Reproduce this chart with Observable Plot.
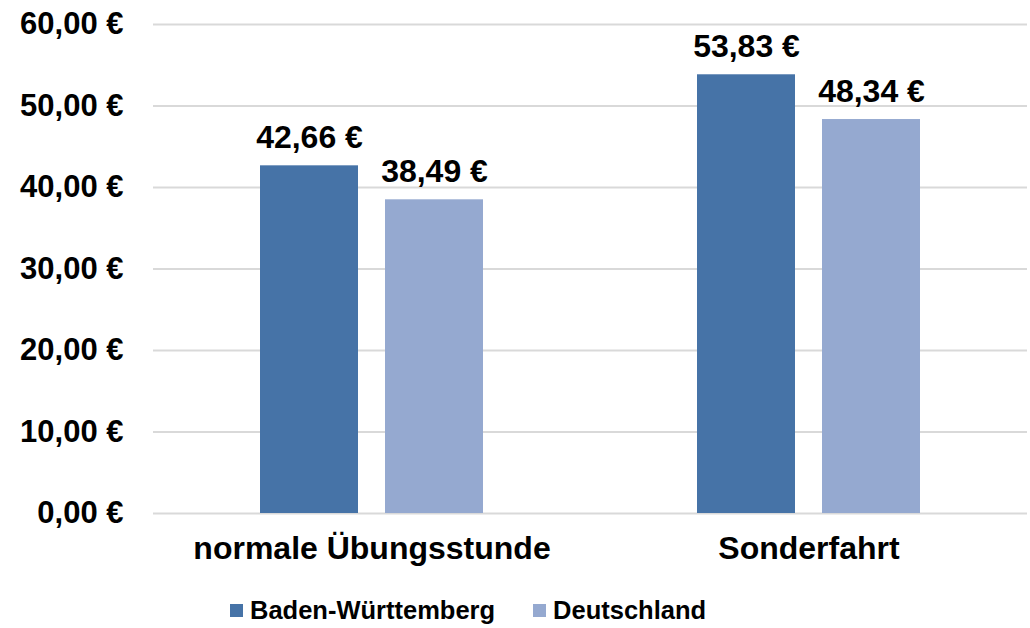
<!DOCTYPE html>
<html>
<head>
<meta charset="utf-8">
<script src="https://cdn.jsdelivr.net/npm/d3@7"></script>
<script src="https://cdn.jsdelivr.net/npm/@observablehq/plot@0.6"></script>
<style>
  body { margin: 0; background: #fff; font-family: "Liberation Sans", Arial, sans-serif; }
  #wrap { position: relative; width: 1030px; height: 628px; }
  #legend { position: absolute; top: 596px; left: 230px; display: flex; align-items: center; font-weight: bold; font-size: 25.5px; color: #000; }
  .item { display: flex; align-items: center; margin-right: 38px; }
  .sw { width: 13px; height: 13px; margin-right: 7px; }
</style>
</head>
<body>
<div id="wrap"><div id="chart"></div><div id="legend"></div></div>
<script>
const categories = ["normale Übungsstunde", "Sonderfahrt"];
const seriesNames = ["Baden-Württemberg", "Deutschland"];
const bwValues = [42.66, 53.83];
const deValues = [38.49, 48.34];
const yTicks = [0, 10, 20, 30, 40, 50, 60];
const colors = ["#4673A7", "#95A9D0"];

const data = [];
categories.forEach((c, i) => {
  data.push({cat: c, series: seriesNames[0], value: bwValues[i]});
  data.push({cat: c, series: seriesNames[1], value: deValues[i]});
});
const fmt = v => v.toFixed(2).replace(".", ",") + " €";

const chart = Plot.plot({
  width: 1030,
  height: 585,
  marginLeft: 152,
  marginRight: 3,
  marginTop: 24,
  marginBottom: 72,
  style: {fontFamily: "'Liberation Sans', Arial, sans-serif", fontWeight: "bold", color: "#000", background: "#fff"},
  fx: {domain: categories, padding: 0, label: null},
  x: {domain: seriesNames, paddingInner: 0.22, paddingOuter: 0.845, axis: null},
  y: {domain: [0, 60], ticks: yTicks, label: null},
  color: {domain: seriesNames, range: colors},
  marks: [
    Plot.ruleY(yTicks, {stroke: "#d9d9d9", strokeWidth: 2}),
    Plot.barY(data, {fx: "cat", x: "series", y: "value", fill: "series"}),
    Plot.text(data, {fx: "cat", x: "series", y: "value", text: d => fmt(d.value), lineAnchor: "bottom", dy: -18, fontSize: 32, fontWeight: "bold", fill: "#000"}),
    Plot.axisY({ticks: yTicks, tickFormat: fmt, tickSize: 0, tickPadding: 30, fontSize: 31, fontWeight: "bold", label: null}),
    Plot.axisFx({anchor: "bottom", tickSize: 0, tickPadding: 23, fontSize: 32, fontWeight: "bold", label: null})
  ]
});
document.getElementById("chart").appendChild(chart);

const legend = document.getElementById("legend");
seriesNames.forEach((s, i) => {
  const it = document.createElement("div");
  it.className = "item";
  const sw = document.createElement("div");
  sw.className = "sw";
  sw.style.background = colors[i];
  const t = document.createElement("span");
  t.textContent = s;
  it.appendChild(sw); it.appendChild(t);
  legend.appendChild(it);
});
</script>
</body>
</html>
